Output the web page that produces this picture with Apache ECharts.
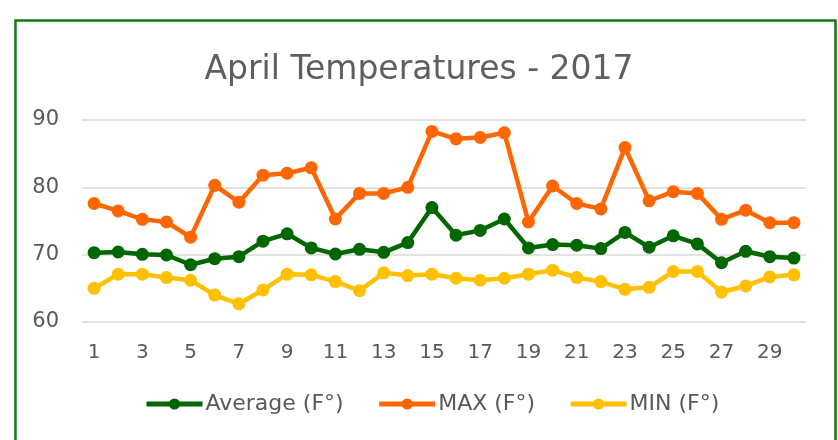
<!DOCTYPE html>
<html>
<head>
<meta charset="utf-8">
<script src="https://cdn.jsdelivr.net/npm/echarts@6/dist/echarts.min.js"></script>
<style>
html,body{margin:0;padding:0;background:#fff;}
#c{width:838px;height:440px;}
</style>
</head>
<body>
<div id="c"></div>
<script>
const days = ["1","2","3","4","5","6","7","8","9","10","11","12","13","14","15","16","17","18","19","20","21","22","23","24","25","26","27","28","29","30"];
const avgTemps = [70.3,70.4,70.05,69.95,68.5,69.4,69.7,72.0,73.1,71.0,70.1,70.8,70.35,71.8,77.0,72.9,73.6,75.3,71.0,71.5,71.4,70.9,73.3,71.1,72.8,71.6,68.8,70.5,69.7,69.5];
const maxTemps = [77.6,76.5,75.25,74.85,72.6,80.3,77.8,81.8,82.1,82.9,75.3,79.1,79.1,80.0,88.3,87.2,87.4,88.1,74.85,80.2,77.6,76.8,85.9,78.0,79.35,79.1,75.25,76.6,74.75,74.75];
const minTemps = [65.0,67.1,67.1,66.6,66.2,64.0,62.7,64.75,67.1,67.0,66.0,64.65,67.3,66.9,67.1,66.5,66.2,66.5,67.1,67.7,66.6,66.0,64.85,65.15,67.5,67.5,64.45,65.35,66.7,67.0];
const yTicks = [60,70,80,90];

const FONT = "DejaVu Sans";
const chart = echarts.init(document.getElementById('c'), null, {renderer:'canvas'});
function line(name, data, color){
  return {
    name, type:'line', data,
    symbol:'circle', symbolSize:13,
    lineStyle:{color, width:4.5},
    itemStyle:{color},
    emphasis:{disabled:true},
    animation:false
  };
}
chart.setOption({
  animation:false,
  backgroundColor:'#fff',
  title:{
    text:'April Temperatures - 2017',
    left:'center', top:49,
    textStyle:{fontFamily:FONT, fontSize:33, fontWeight:'normal', color:'#5f5f5f'}
  },
  legend:{
    bottom:20, left:139,
    itemWidth:56, itemHeight:14, itemGap:33,
    lineStyle:{width:5},
    textStyle:{fontFamily:FONT, fontSize:22, color:'#595959', padding:[0,0,0,-2]},
    data:['Average (F°)','MAX (F°)','MIN (F°)']
  },
  grid:{left:82, right:32, top:120, bottom:118, containLabel:false},
  xAxis:{
    type:'category', data:days, boundaryGap:true,
    axisLine:{show:false}, axisTick:{show:false},
    axisLabel:{interval:1, color:'#595959', fontFamily:FONT, fontSize:20, margin:21}
  },
  yAxis:{
    type:'value', min:60, max:90, interval:10,
    axisLine:{show:false}, axisTick:{show:false},
    splitLine:{lineStyle:{color:'#d9d9d9', width:1.5}},
    axisLabel:{color:'#595959', fontFamily:FONT, fontSize:21, margin:23}
  },
  series:[
    line('Average (F°)', avgTemps, '#006600'),
    line('MAX (F°)', maxTemps, '#ff6600'),
    line('MIN (F°)', minTemps, '#ffc000')
  ],
  graphic:[{
    type:'rect', silent:true, z:100,
    shape:{x:15.5, y:20.5, width:820, height:440},
    style:{fill:'none', stroke:'#137813', lineWidth:2.5}
  }]
});
</script>
</body>
</html>
